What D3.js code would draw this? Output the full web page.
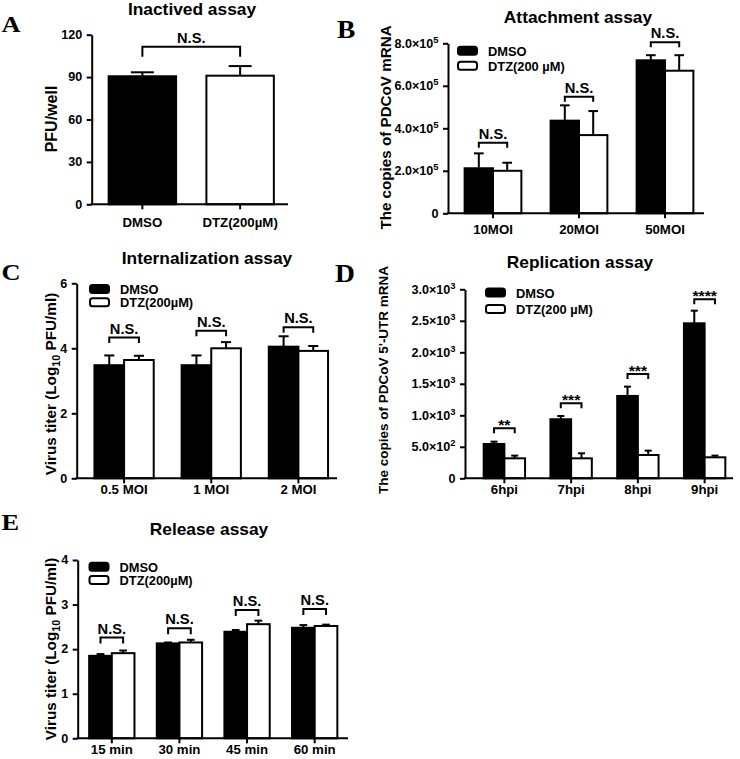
<!DOCTYPE html>
<html><head><meta charset="utf-8">
<script src="https://cdn.jsdelivr.net/npm/d3@7"></script>
<style>body{margin:0;background:#fff}</style>
</head><body>
<svg id="c" width="740" height="759" xmlns="http://www.w3.org/2000/svg"></svg>
<script>
// ---------------- DATA ----------------
// Panel A: Inactived assay
const aCategories = ["DMSO", "DTZ(200µM)"];
const aValues = [90.6, 91.0];
const aErrors = [2.8, 6.8];
const aTicks = [0, 30, 60, 90, 120];
const aTickLabels = ["0", "30", "60", "90", "120"];
const aBrackets = [111.5];
const aSig = ["N.S."];

// Panel B: Attachment assay
const bCategories = ["10MOI", "20MOI", "50MOI"];
const bDMSO = [2.12e5, 4.36e5, 7.20e5];
const bDMSOErr = [0.70e5, 0.72e5, 0.24e5];
const bDTZ = [2.00e5, 3.68e5, 6.71e5];
const bDTZErr = [0.38e5, 1.13e5, 0.73e5];
const bTicks = [0, 2e5, 4e5, 6e5, 8e5];
const bTickLabels = ["0", "2.0×10^5", "4.0×10^5", "6.0×10^5", "8.0×10^5"];
const bBrackets = [3.32e5, 5.49e5, 8.05e5];
const bSig = ["N.S.", "N.S.", "N.S."];
const bLegend = ["DMSO", "DTZ(200 µM)"];

// Panel C: Internalization assay
const cCategories = ["0.5 MOI", "1 MOI", "2 MOI"];
const cDMSO = [3.48, 3.48, 4.05];
const cDMSOErr = [0.30, 0.30, 0.32];
const cDTZ = [3.64, 4.00, 3.92];
const cDTZErr = [0.13, 0.19, 0.15];
const cTicks = [0, 2, 4, 6];
const cTickLabels = ["0", "2", "4", "6"];
const cBrackets = [4.33, 4.54, 4.65];
const cSig = ["N.S.", "N.S.", "N.S."];
const cLegend = ["DMSO", "DTZ(200µM)"];

// Panel D: Replication assay
const dCategories = ["6hpi", "7hpi", "8hpi", "9hpi"];
const dDMSO = [545, 937, 1307, 2460];
const dDMSOErr = [37, 52, 148, 201];
const dDTZ = [317, 317, 370, 333];
const dDTZErr = [43, 80, 69, 27];
const dTicks = [0, 500, 1000, 1500, 2000, 2500, 3000];
const dTickLabels = ["0", "5.0×10^2", "1.0×10^3", "1.5×10^3", "2.0×10^3", "2.5×10^3", "3.0×10^3"];
const dBrackets = [794, 1190, 1656, 2841];
const dSig = ["**", "***", "***", "****"];
const dLegend = ["DMSO", "DTZ(200 µM)"];

// Panel E: Release assay
const eCategories = ["15 min", "30 min", "45 min", "60 min"];
const eDMSO = [1.85, 2.13, 2.39, 2.48];
const eDMSOErr = [0.04, 0.02, 0.04, 0.06];
const eDTZ = [1.91, 2.15, 2.56, 2.52];
const eDTZErr = [0.06, 0.06, 0.08, 0.03];
const eTicks = [0, 1, 2, 3, 4];
const eTickLabels = ["0", "1", "2", "3", "4"];
const eBrackets = [2.26, 2.47, 2.88, 2.90];
const eSig = ["N.S.", "N.S.", "N.S.", "N.S."];
const eLegend = ["DMSO", "DTZ(200µM)"];

// ---------------- DRAWING ----------------
const FONT = "'Liberation Sans', Arial, Helvetica, sans-serif";
const SERIF = "'Liberation Serif', 'Times New Roman', serif";
const svg = d3.select("#c");
svg.append("rect").attr("width", 740).attr("height", 759).attr("fill", "#fff");

function txt(g, x, y, s, size, anchor, sx, rot) {
  const t = g.append("text")
    .attr("transform", `translate(${x},${y})` + (rot ? ` rotate(${rot})` : "") + ` scale(${sx || 1},1)`)
    .attr("text-anchor", anchor || "middle")
    .attr("font-family", FONT).attr("font-weight", "bold")
    .attr("font-size", size).attr("fill", "#000");
  return t;
}
function fillRich(t, s, supSize) {
  const parts = s.split("^");
  t.append("tspan").text(parts[0]);
  if (parts.length > 1) t.append("tspan").attr("font-size", supSize).attr("dy", -5).text(parts[1]);
}

function panel(cfg) {
  const g = svg.append("g");
  const x = d3.scaleBand().domain(cfg.groups).range([cfg.bx0, cfg.bx1])
    .paddingInner(1 - cfg.frac).paddingOuter((1 - cfg.frac) / 2);
  const xs = d3.scaleBand().domain(d3.range(cfg.series.length)).range([0, x.bandwidth()]);
  const y = d3.scaleLinear().domain([0, cfg.max]).range([cfg.yB, cfg.yT]);
  const bw = xs.bandwidth();

  cfg.series.forEach((s, si) => {
    cfg.groups.forEach((grp, gi) => {
      const bx = x(grp) + xs(si);
      const cx = bx + bw / 2;
      const v = s.values[gi], e = s.errors[gi];
      const cw = bw * 0.34;
      g.append("line").attr("x1", cx).attr("x2", cx).attr("y1", y(v)).attr("y2", y(v + e))
        .attr("stroke", "#000").attr("stroke-width", 2);
      g.append("line").attr("x1", cx - cw / 2).attr("x2", cx + cw / 2).attr("y1", y(v + e)).attr("y2", y(v + e))
        .attr("stroke", "#000").attr("stroke-width", 2);
      g.append("rect").attr("x", bx).attr("y", y(v)).attr("width", bw).attr("height", y(0) - y(v))
        .attr("fill", s.fill(gi)).attr("stroke", "#000").attr("stroke-width", 2);
    });
  });

  // y axis
  const ya = g.append("g").attr("transform", `translate(${cfg.x0},0)`)
    .call(d3.axisLeft(y).tickValues(cfg.ticks).tickSize(5).tickSizeOuter(0).tickPadding(4).tickFormat(() => ""));
  ya.select(".domain").attr("stroke-width", 2);
  ya.selectAll(".tick line").attr("stroke-width", 2);
  ya.selectAll(".tick text").each(function (d, i) {
    fillRich(d3.select(this), cfg.tickLabels[i], 9);
  }).attr("font-family", FONT).attr("font-weight", "bold").attr("font-size", 12)
    .attr("fill", "#000").attr("transform", "scale(1.05,1)");

  // x axis
  const xa = g.append("g").attr("transform", `translate(0,${cfg.yB})`)
    .call(d3.axisBottom(x).tickSize(5).tickSizeOuter(0).tickFormat(() => ""));
  xa.select(".domain").remove();
  xa.selectAll(".tick line").attr("stroke-width", 2);
  g.append("line").attr("x1", cfg.x0 - 1).attr("x2", cfg.x1).attr("y1", cfg.yB).attr("y2", cfg.yB)
    .attr("stroke", "#000").attr("stroke-width", 2);
  cfg.groups.forEach((grp) => {
    txt(g, x(grp) + x.bandwidth() / 2, cfg.yB + cfg.xlab, grp, 12.5, "middle", 1.06).text(grp);
  });

  // brackets
  cfg.brackets.forEach((b, i) => {
    let xl, xr;
    if (cfg.series.length === 1) {
      xl = x(cfg.groups[0]) + bw / 2; xr = x(cfg.groups[1]) + bw / 2;
    } else {
      xl = x(cfg.groups[i]) + xs(0) + bw / 2; xr = x(cfg.groups[i]) + xs(1) + bw / 2;
    }
    const yy = y(b);
    g.append("path").attr("d", `M${xl},${yy + cfg.leg}V${yy}H${xr}V${yy + cfg.leg}`)
      .attr("fill", "none").attr("stroke", "#000").attr("stroke-width", 2);
    const s = cfg.sig[i];
    const isStar = s.indexOf("*") >= 0;
    txt(g, (xl + xr) / 2, isStar ? yy + 2 : yy - 4, s, isStar ? 15 : 14, "middle", 1.05).text(s);
  });

  // legend
  if (cfg.legend) {
    cfg.legend.forEach((name, i) => {
      const ly = cfg.ly + i * cfg.ldy;
      g.append("rect").attr("x", cfg.lx).attr("y", ly).attr("width", 19).attr("height", 8).attr("rx", 2.5)
        .attr("fill", i === 0 ? "#000" : "#fff").attr("stroke", "#000").attr("stroke-width", 2);
      txt(g, cfg.lx + 30, ly + 9, name, 12.5, "start", 1.03).text(name);
    });
  }

  // title
  txt(g, cfg.tx, cfg.ty, cfg.title, 17, "middle", 1.02).text(cfg.title);

  // y label
  const yl = txt(g, cfg.ylx, cfg.yly, "", cfg.ylSize, "middle", 1, -90);
  cfg.ylabel.forEach((p) => {
    const ts = yl.append("tspan").text(p.t);
    if (p.sub) ts.attr("font-size", cfg.ylSize * 0.7).attr("dy", 4);
    if (p.after) ts.attr("dy", -4);
  });
}

function letter(x, y, s, size) {
  svg.append("text").attr("transform", `translate(${x},${y}) scale(1.1,1)`)
    .attr("font-family", SERIF).attr("font-weight", "bold").attr("font-size", size)
    .attr("fill", "#000").text(s);
}

panel({
  groups: aCategories, frac: 0.69,
  series: [{ values: aValues, errors: aErrors, fill: (i) => (i === 0 ? "#000" : "#fff") }],
  bx0: 93.5, bx1: 289, x0: 91.7, x1: 288, yB: 204.3, yT: 34.7, max: 120,
  ticks: aTicks, tickLabels: aTickLabels, brackets: aBrackets, sig: aSig, leg: 10, xlab: 23,
  title: "Inactived assay", tx: 192, ty: 15,
  ylabel: [{ t: "PFU/well" }], ylx: 56.5, yly: 119, ylSize: 16
});

panel({
  groups: bCategories, frac: 0.66,
  series: [
    { values: bDMSO, errors: bDMSOErr, fill: () => "#000" },
    { values: bDTZ, errors: bDTZErr, fill: () => "#fff" }
  ],
  bx0: 450, bx1: 708, x0: 448, x1: 704, yB: 213.3, yT: 43.3, max: 8e5,
  ticks: bTicks, tickLabels: bTickLabels, brackets: bBrackets, sig: bSig, leg: 5, xlab: 20.5,
  legend: bLegend, lx: 458, ly: 46.7, ldy: 15,
  title: "Attachment assay", tx: 578, ty: 22.5,
  ylabel: [{ t: "The copies of PDCoV mRNA" }], ylx: 390.5, yly: 127.5, ylSize: 15.2
});

panel({
  groups: cCategories, frac: 0.68,
  series: [
    { values: cDMSO, errors: cDMSOErr, fill: () => "#000" },
    { values: cDTZ, errors: cDTZErr, fill: () => "#fff" }
  ],
  bx0: 80.5, bx1: 342, x0: 76.7, x1: 337, yB: 478.3, yT: 283.3, max: 6,
  ticks: cTicks, tickLabels: cTickLabels, brackets: cBrackets, sig: cSig, leg: 5.5, xlab: 15.5,
  legend: cLegend, lx: 90, ly: 285, ldy: 13.3,
  title: "Internalization assay", tx: 207, ty: 264,
  ylabel: [{ t: "Virus titer (Log" }, { t: "10", sub: true }, { t: " PFU/ml)", after: true }],
  ylx: 56, yly: 384, ylSize: 15.3
});

panel({
  groups: dCategories, frac: 0.62,
  series: [
    { values: dDMSO, errors: dDMSOErr, fill: () => "#000" },
    { values: dDTZ, errors: dDTZErr, fill: () => "#fff" }
  ],
  bx0: 471, bx1: 738, x0: 465, x1: 733, yB: 478.3, yT: 289.3, max: 3000,
  ticks: dTicks, tickLabels: dTickLabels, brackets: dBrackets, sig: dSig, leg: 5, xlab: 15.5,
  legend: dLegend, lx: 486, ly: 288.5, ldy: 16.5,
  title: "Replication assay", tx: 580, ty: 268,
  ylabel: [{ t: "The copies of PDCoV 5'-UTR mRNA" }], ylx: 388, yly: 380, ylSize: 13.5
});

panel({
  groups: eCategories, frac: 0.67,
  series: [
    { values: eDMSO, errors: eDMSOErr, fill: () => "#000" },
    { values: eDTZ, errors: eDTZErr, fill: () => "#fff" }
  ],
  bx0: 78, bx1: 348.5, x0: 77.7, x1: 348, yB: 738.3, yT: 560, max: 4,
  ticks: eTicks, tickLabels: eTickLabels, brackets: eBrackets, sig: eSig, leg: 6, xlab: 15.5,
  legend: eLegend, lx: 89.5, ly: 562.7, ldy: 13.3,
  title: "Release assay", tx: 209, ty: 535,
  ylabel: [{ t: "Virus titer (Log" }, { t: "10", sub: true }, { t: " PFU/ml)", after: true }],
  ylx: 56, yly: 649, ylSize: 15.3
});

letter(1.5, 31.5, "A", 24);
letter(337, 38, "B", 25);
letter(1.5, 280, "C", 24);
letter(335, 282, "D", 25);
letter(1.5, 530, "E", 24);
</script>
</body></html>
